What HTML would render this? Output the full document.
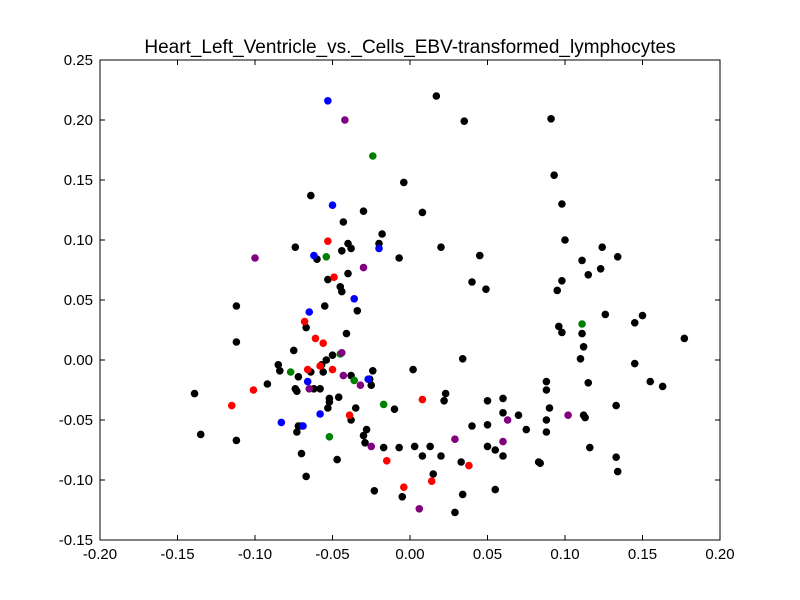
<!DOCTYPE html>
<html><head><meta charset="utf-8"><style>
body{margin:0;background:#fff;}
svg{display:block;font-family:"Liberation Sans",sans-serif;}
</style></head><body>
<svg id="chart" width="800" height="600" viewBox="0 0 800 600">
<rect width="800" height="600" fill="#fff"/>
<text x="410" y="53" text-anchor="middle" font-size="19">Heart_Left_Ventricle_vs._Cells_EBV-transformed_lymphocytes</text>
<g id="marks"></g>
<g id="axes"></g>
<rect x="100" y="60" width="620" height="480" fill="none" stroke="#000" stroke-width="1"/>
</svg>
<script>
const xTicks=[-0.20,-0.15,-0.10,-0.05,0.00,0.05,0.10,0.15,0.20];
const yTicks=[-0.15,-0.10,-0.05,0.00,0.05,0.10,0.15,0.20,0.25];
const blackX=[0.017,0.035,0.091,0.093,0.098,-0.004,-0.064,-0.030,0.008,-0.043,-0.018,-0.020,-0.040,-0.038,-0.044,-0.074,0.020,0.100,0.124,0.134,0.111,-0.060,-0.007,0.045,-0.053,-0.040,0.040,0.098,0.115,0.123,0.049,0.095,-0.045,-0.044,-0.055,-0.034,-0.112,0.126,0.150,0.145,-0.067,-0.041,0.096,0.098,0.111,-0.112,0.112,-0.075,0.034,0.110,-0.054,-0.050,0.177,-0.085,-0.084,-0.064,0.002,-0.024,-0.072,-0.057,-0.056,0.145,-0.038,0.088,0.115,0.155,0.163,-0.092,-0.062,-0.058,-0.074,-0.073,-0.026,-0.025,-0.139,0.023,0.022,0.088,0.060,0.050,-0.052,-0.052,-0.046,-0.053,-0.035,-0.010,0.090,0.133,-0.112,-0.135,-0.072,-0.070,-0.073,-0.070,-0.038,0.040,0.050,0.060,0.070,0.075,0.088,0.112,0.113,-0.028,-0.030,-0.029,-0.017,-0.007,0.003,0.013,0.020,0.008,0.050,0.055,0.060,0.083,0.084,0.088,0.116,0.133,0.134,0.033,-0.047,-0.067,-0.023,-0.005,0.015,0.034,0.055,0.029];
const blackY=[0.220,0.199,0.201,0.154,0.130,0.148,0.137,0.124,0.123,0.115,0.105,0.097,0.097,0.093,0.091,0.094,0.094,0.100,0.094,0.086,0.083,0.084,0.085,0.087,0.067,0.072,0.065,0.066,0.071,0.076,0.059,0.058,0.061,0.057,0.045,0.041,0.045,0.038,0.037,0.031,0.027,0.022,0.028,0.023,0.022,0.015,0.011,0.008,0.001,0.001,0.000,0.004,0.018,-0.004,-0.009,-0.010,-0.008,-0.009,-0.014,-0.004,-0.010,-0.003,-0.013,-0.018,-0.019,-0.018,-0.022,-0.020,-0.024,-0.024,-0.024,-0.026,-0.016,-0.021,-0.028,-0.028,-0.034,-0.025,-0.032,-0.034,-0.032,-0.035,-0.031,-0.040,-0.040,-0.041,-0.040,-0.038,-0.067,-0.062,-0.055,-0.055,-0.060,-0.078,-0.050,-0.055,-0.054,-0.044,-0.046,-0.058,-0.050,-0.046,-0.048,-0.058,-0.063,-0.069,-0.073,-0.073,-0.072,-0.072,-0.080,-0.080,-0.072,-0.075,-0.080,-0.085,-0.086,-0.060,-0.073,-0.081,-0.093,-0.085,-0.083,-0.097,-0.109,-0.114,-0.095,-0.112,-0.108,-0.127];
const redX=[-0.053,-0.049,-0.068,-0.061,-0.056,-0.058,-0.066,-0.050,-0.101,-0.115,-0.039,0.008,-0.015,-0.004,0.014,0.038];
const redY=[0.099,0.069,0.032,0.018,0.014,-0.005,-0.008,-0.008,-0.025,-0.038,-0.046,-0.033,-0.084,-0.106,-0.101,-0.088];
const blueX=[-0.053,-0.050,-0.062,-0.020,-0.036,-0.065,-0.066,-0.027,-0.058,-0.083,-0.069];
const blueY=[0.216,0.129,0.087,0.093,0.051,0.040,-0.018,-0.016,-0.045,-0.052,-0.055];
const greenX=[-0.024,-0.054,0.111,-0.077,-0.036,-0.017,-0.052,-0.045];
const greenY=[0.170,0.086,0.030,-0.010,-0.017,-0.037,-0.064,0.005];
const purpleX=[-0.042,-0.100,-0.030,-0.044,-0.043,-0.032,-0.065,-0.025,0.006,0.029,0.060,0.063,0.102];
const purpleY=[0.200,0.085,0.077,0.006,-0.013,-0.021,-0.024,-0.072,-0.124,-0.066,-0.068,-0.050,-0.046];

const NS="http://www.w3.org/2000/svg";
const sx=v=>100+(v+0.2)/0.4*620;
const sy=v=>540-(v+0.15)/0.4*480;
const marks=document.getElementById('marks');
const axes=document.getElementById('axes');
function series(xs,ys,color,name){
  for(let i=0;i<xs.length;i++){
    const c=document.createElementNS(NS,'circle');
    c.setAttribute('cx',sx(xs[i]));c.setAttribute('cy',sy(ys[i]));
    c.setAttribute('r',3.8);c.setAttribute('fill',color);
    
    
    marks.appendChild(c);
  }
}
series(blackX,blackY,'#000','black');
series(redX,redY,'#ff0000','red');
series(blueX,blueY,'#0000ff','blue');
series(greenX,greenY,'#008000','green');
series(purpleX,purpleY,'#800080','purple');
xTicks.forEach(v=>{
  const x=sx(v);
  const l=document.createElementNS(NS,'path');
  l.setAttribute('d',`M${x},540v-5M${x},60v5`);l.setAttribute('stroke','#000');
  
  
  axes.appendChild(l);
  const t=document.createElementNS(NS,'text');
  t.setAttribute('x',x);t.setAttribute('y',559);t.setAttribute('text-anchor','middle');t.setAttribute('font-size','15');
  t.textContent=v.toFixed(2);
  
  
  axes.appendChild(t);
});
yTicks.forEach(v=>{
  const y=sy(v);
  const l=document.createElementNS(NS,'path');
  l.setAttribute('d',`M100,${y}h5M720,${y}h-5`);l.setAttribute('stroke','#000');
  
  
  axes.appendChild(l);
  const t=document.createElementNS(NS,'text');
  t.setAttribute('x',93);t.setAttribute('y',y+5);t.setAttribute('text-anchor','end');t.setAttribute('font-size','15');
  t.textContent=v.toFixed(2);
  
  
  axes.appendChild(t);
});
</script>
</body></html>
